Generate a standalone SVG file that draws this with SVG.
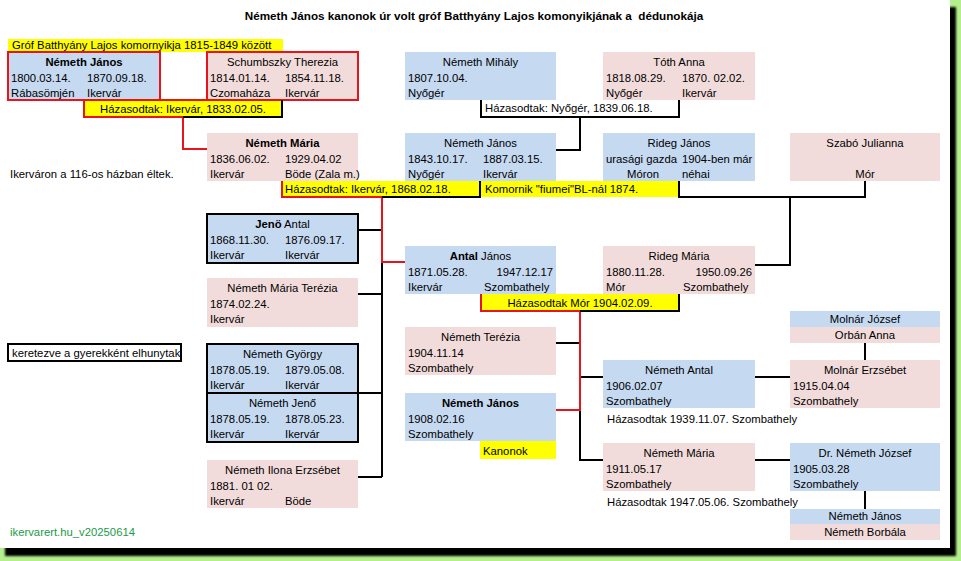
<svg xmlns="http://www.w3.org/2000/svg" width="961" height="561" viewBox="0 0 961 561">
<defs>
<filter id="sh" x="-5%" y="-5%" width="110%" height="110%"><feGaussianBlur stdDeviation="1.2"/></filter>
</defs>
<style>
text{font-family:"Liberation Sans",Arial,sans-serif;font-size:11.3px;fill:#000}
.c{text-anchor:middle}.r{text-anchor:end}.bd{font-weight:bold}
.b{fill:#c5d9f1}.p{fill:#f2dcdb}.y{fill:#ffff00}
.ln{stroke:#000;stroke-width:2;fill:none}
.rl{stroke:#e8131b;stroke-width:2;fill:none}
.rb{stroke:#e8131b;stroke-width:2}
.kb{stroke:#000;stroke-width:2}
</style>
<rect x="0" y="0" width="961" height="561" fill="#b5ee8d"/>
<rect x="5" y="7" width="951" height="549" fill="#000" filter="url(#sh)"/>
<rect x="0" y="0" width="950" height="548" fill="#fff"/>

<text x="474" y="20" class="c bd" style="font-size:11.7px;white-space:pre">Németh János kanonok úr volt gróf Batthyány Lajos komonyikjának a  dédunokája</text>

<g id="note-batthyany"><rect x="8" y="39" width="275" height="13" class="y"/><text x="12" y="49">Gróf Batthyány Lajos komornyikja 1815-1849 között</text></g>
<g id="note-haz"><text x="10" y="178">Ikerváron a 116-os házban éltek.</text></g>
<g id="note-keret"><rect x="8" y="344" width="173" height="17" fill="#fff" class="kb"/><text x="12" y="357">keretezve a gyerekként elhunytak</text></g>
<g id="note-version"><text x="10" y="536" style="fill:#1a9a48">ikervarert.hu_v20250614</text></g>

<g id="connectors">
<path class="ln" d="M481,100V117H679V100"/>
<path class="ln" d="M580,117V150H556"/>
<path class="ln" d="M382,230V477"/>
<path class="ln" d="M358,230H382M358,294H382M358,393H382M358,477H382"/>
<path class="ln" d="M679,181V197H865V181"/>
<path class="ln" d="M790,197V265H755"/>
<path class="ln" d="M580,410V460H603M556,343H580M580,377H603"/>
<path class="ln" d="M755,377H790M755,460H790M865,343V360M865,491V509"/>
<path class="rl" d="M183,117V149H207"/>
<path class="rl" d="M382,197V262H405"/>
<path class="rl" d="M580,311V410H556"/>
</g>

<g id="n-janos1800"><rect x="8" y="52" width="152" height="48" class="b rb"/>
<text x="84" y="66" class="c bd">Németh János</text><text x="11" y="82">1800.03.14.</text><text x="87" y="82">1870.09.18.</text><text x="11" y="97">Rábasömjén</text><text x="87" y="97">Ikervár</text></g>
<g id="n-schumbszky"><rect x="207" y="52" width="151" height="48" class="p rb"/>
<text x="282.5" y="66" class="c">Schumbszky Therezia</text><text x="210" y="82">1814.01.14.</text><text x="285" y="82">1854.11.18.</text><text x="210" y="97">Czomaháza</text><text x="285" y="97">Ikervár</text></g>
<g id="n-mihaly"><rect x="405" y="52" width="151" height="48" class="b"/>
<text x="480.5" y="66" class="c">Németh Mihály</text><text x="408" y="82">1807.10.04.</text><text x="408" y="97">Nyőgér</text></g>
<g id="n-toth"><rect x="603" y="52" width="152" height="48" class="p"/>
<text x="679" y="66" class="c">Tóth Anna</text><text x="606" y="82">1818.08.29.</text><text x="682" y="82">1870. 02.02.</text><text x="606" y="97">Nyőgér</text><text x="682" y="97">Ikervár</text></g>

<g id="n-maria1836"><rect x="207" y="133" width="151" height="48" class="p"/>
<text x="282.5" y="147" class="c bd">Németh Mária</text><text x="210" y="163">1836.06.02.</text><text x="285" y="163">1929.04.02</text><text x="210" y="178">Ikervár</text><text x="285" y="178">Böde (Zala m.)</text></g>
<g id="n-janos1843"><rect x="405" y="133" width="151" height="48" class="b"/>
<text x="480.5" y="147" class="c">Németh János</text><text x="408" y="163">1843.10.17.</text><text x="483" y="163">1887.03.15.</text><text x="408" y="178">Nyőgér</text><text x="483" y="178">Ikervár</text></g>
<g id="n-rideg-janos"><rect x="603" y="133" width="152" height="48" class="b"/>
<text x="679" y="147" class="c">Rideg János</text><text x="606" y="163">urasági gazda</text><text x="682" y="163">1904-ben már</text><text x="627" y="178">Móron</text><text x="682" y="178">néhai</text></g>
<g id="n-szabo"><rect x="790" y="133" width="150" height="48" class="p"/>
<text x="865" y="147" class="c">Szabó Julianna</text><text x="865" y="178" class="c">Mór</text></g>

<g id="l-1833"><rect x="84" y="100" width="198" height="17" class="y"/><path class="rl" d="M282,100H84V117H183"/><path class="ln" d="M183,117H282V100"/>
<text x="183" y="113" class="c">Házasodtak: Ikervár, 1833.02.05.</text></g>
<g id="l-1839"><text x="485" y="112">Házasodtak: Nyőgér, 1839.06.18.</text></g>
<g id="l-1868"><rect x="282" y="181" width="198" height="16" class="y"/><path class="rl" d="M282,181V197H382"/><path class="ln" d="M382,197H480V181"/>
<text x="285" y="193">Házasodtak: Ikervár, 1868.02.18.</text></g>
<g id="l-komornik"><rect x="481" y="181" width="197" height="16" class="y"/><text x="485" y="193">Komornik "fiumei"BL-nál 1874.</text></g>

<g id="n-jeno-antal"><rect x="207" y="214" width="151" height="49" class="b kb"/>
<text x="282.5" y="228" class="c"><tspan font-weight="bold">Jenö</tspan> Antal</text><text x="210" y="244">1868.11.30.</text><text x="285" y="244">1876.09.17.</text><text x="210" y="259">Ikervár</text><text x="285" y="259">Ikervár</text></g>
<g id="n-maria-terezia"><rect x="207" y="278" width="151" height="49" class="p"/>
<text x="282.5" y="292" class="c">Németh Mária Terézia</text><text x="210" y="308">1874.02.24.</text><text x="210" y="323">Ikervár</text></g>
<g id="n-antal-janos"><rect x="405" y="246" width="151" height="48" class="b"/>
<text x="480.5" y="260" class="c"><tspan font-weight="bold">Antal</tspan> János</text><text x="408" y="276">1871.05.28.</text><text x="553" y="276" class="r">1947.12.17</text><text x="408" y="291">Ikervár</text><text x="484" y="291">Szombathely</text></g>
<g id="n-rideg-maria"><rect x="603" y="246" width="152" height="48" class="p"/>
<text x="679" y="260" class="c">Rideg Mária</text><text x="606" y="276">1880.11.28.</text><text x="752" y="276" class="r">1950.09.26</text><text x="606" y="291">Mór</text><text x="683" y="291">Szombathely</text></g>
<g id="l-1904"><rect x="481" y="294" width="198" height="17" class="y"/><path class="rl" d="M481,294V311H580"/><path class="ln" d="M580,311H679V294"/>
<text x="580" y="307" class="c">Házasodtak Mór 1904.02.09.</text></g>

<g id="n-gyorgy"><rect x="207" y="344" width="151" height="49" class="b kb"/>
<text x="282.5" y="358" class="c">Németh György</text><text x="210" y="374">1878.05.19.</text><text x="285" y="374">1879.05.08.</text><text x="210" y="389">Ikervár</text><text x="285" y="389">Ikervár</text></g>
<g id="n-jeno"><rect x="207" y="393" width="151" height="49" class="b kb"/>
<text x="282.5" y="407" class="c">Németh Jenő</text><text x="210" y="423">1878.05.19.</text><text x="285" y="423">1878.05.23.</text><text x="210" y="438">Ikervár</text><text x="285" y="438">Ikervár</text></g>
<g id="n-ilona"><rect x="207" y="460" width="151" height="48" class="p"/>
<text x="282.5" y="474" class="c">Németh Ilona Erzsébet</text><text x="210" y="490">1881. 01 02.</text><text x="210" y="505">Ikervár</text><text x="285" y="505">Böde</text></g>

<g id="n-terezia"><rect x="405" y="327" width="151" height="48" class="p"/>
<text x="480.5" y="341" class="c">Németh Terézia</text><text x="408" y="357">1904.11.14</text><text x="408" y="372">Szombathely</text></g>
<g id="n-janos1908"><rect x="405" y="393" width="151" height="48" class="b"/>
<text x="480.5" y="407" class="c bd">Németh János</text><text x="408" y="423">1908.02.16</text><text x="408" y="438">Szombathely</text>
<rect x="480" y="441" width="76" height="18" class="y"/><text x="483" y="455">Kanonok</text></g>

<g id="n-nemeth-antal"><rect x="603" y="360" width="152" height="48" class="b"/>
<text x="679" y="374" class="c">Németh Antal</text><text x="606" y="390">1906.02.07</text><text x="606" y="405">Szombathely</text>
<text x="607" y="423">Házasodtak 1939.11.07. Szombathely</text></g>
<g id="n-molnar-jozsef"><rect x="790" y="311" width="150" height="16" class="b"/><text x="865" y="323" class="c">Molnár József</text>
<rect x="790" y="327" width="150" height="16" class="p"/><text x="865" y="339" class="c">Orbán Anna</text></g>
<g id="n-molnar-erzsebet"><rect x="790" y="360" width="150" height="48" class="p"/>
<text x="865" y="374" class="c">Molnár Erzsébet</text><text x="793" y="390">1915.04.04</text><text x="793" y="405">Szombathely</text></g>
<g id="n-maria1911"><rect x="603" y="443" width="152" height="48" class="p"/>
<text x="679" y="457" class="c">Németh Mária</text><text x="606" y="473">1911.05.17</text><text x="606" y="488">Szombathely</text>
<text x="607" y="506">Házasodtak 1947.05.06. Szombathely</text></g>
<g id="n-dr-jozsef"><rect x="790" y="443" width="150" height="48" class="b"/>
<text x="865" y="457" class="c">Dr. Németh József</text><text x="793" y="473">1905.03.28</text><text x="793" y="488">Szombathely</text></g>
<g id="n-unokak"><rect x="790" y="509" width="150" height="15" class="b"/><text x="865" y="520" class="c">Németh János</text>
<rect x="790" y="524" width="150" height="16" class="p"/><text x="865" y="536" class="c">Németh Borbála</text></g>
</svg>
